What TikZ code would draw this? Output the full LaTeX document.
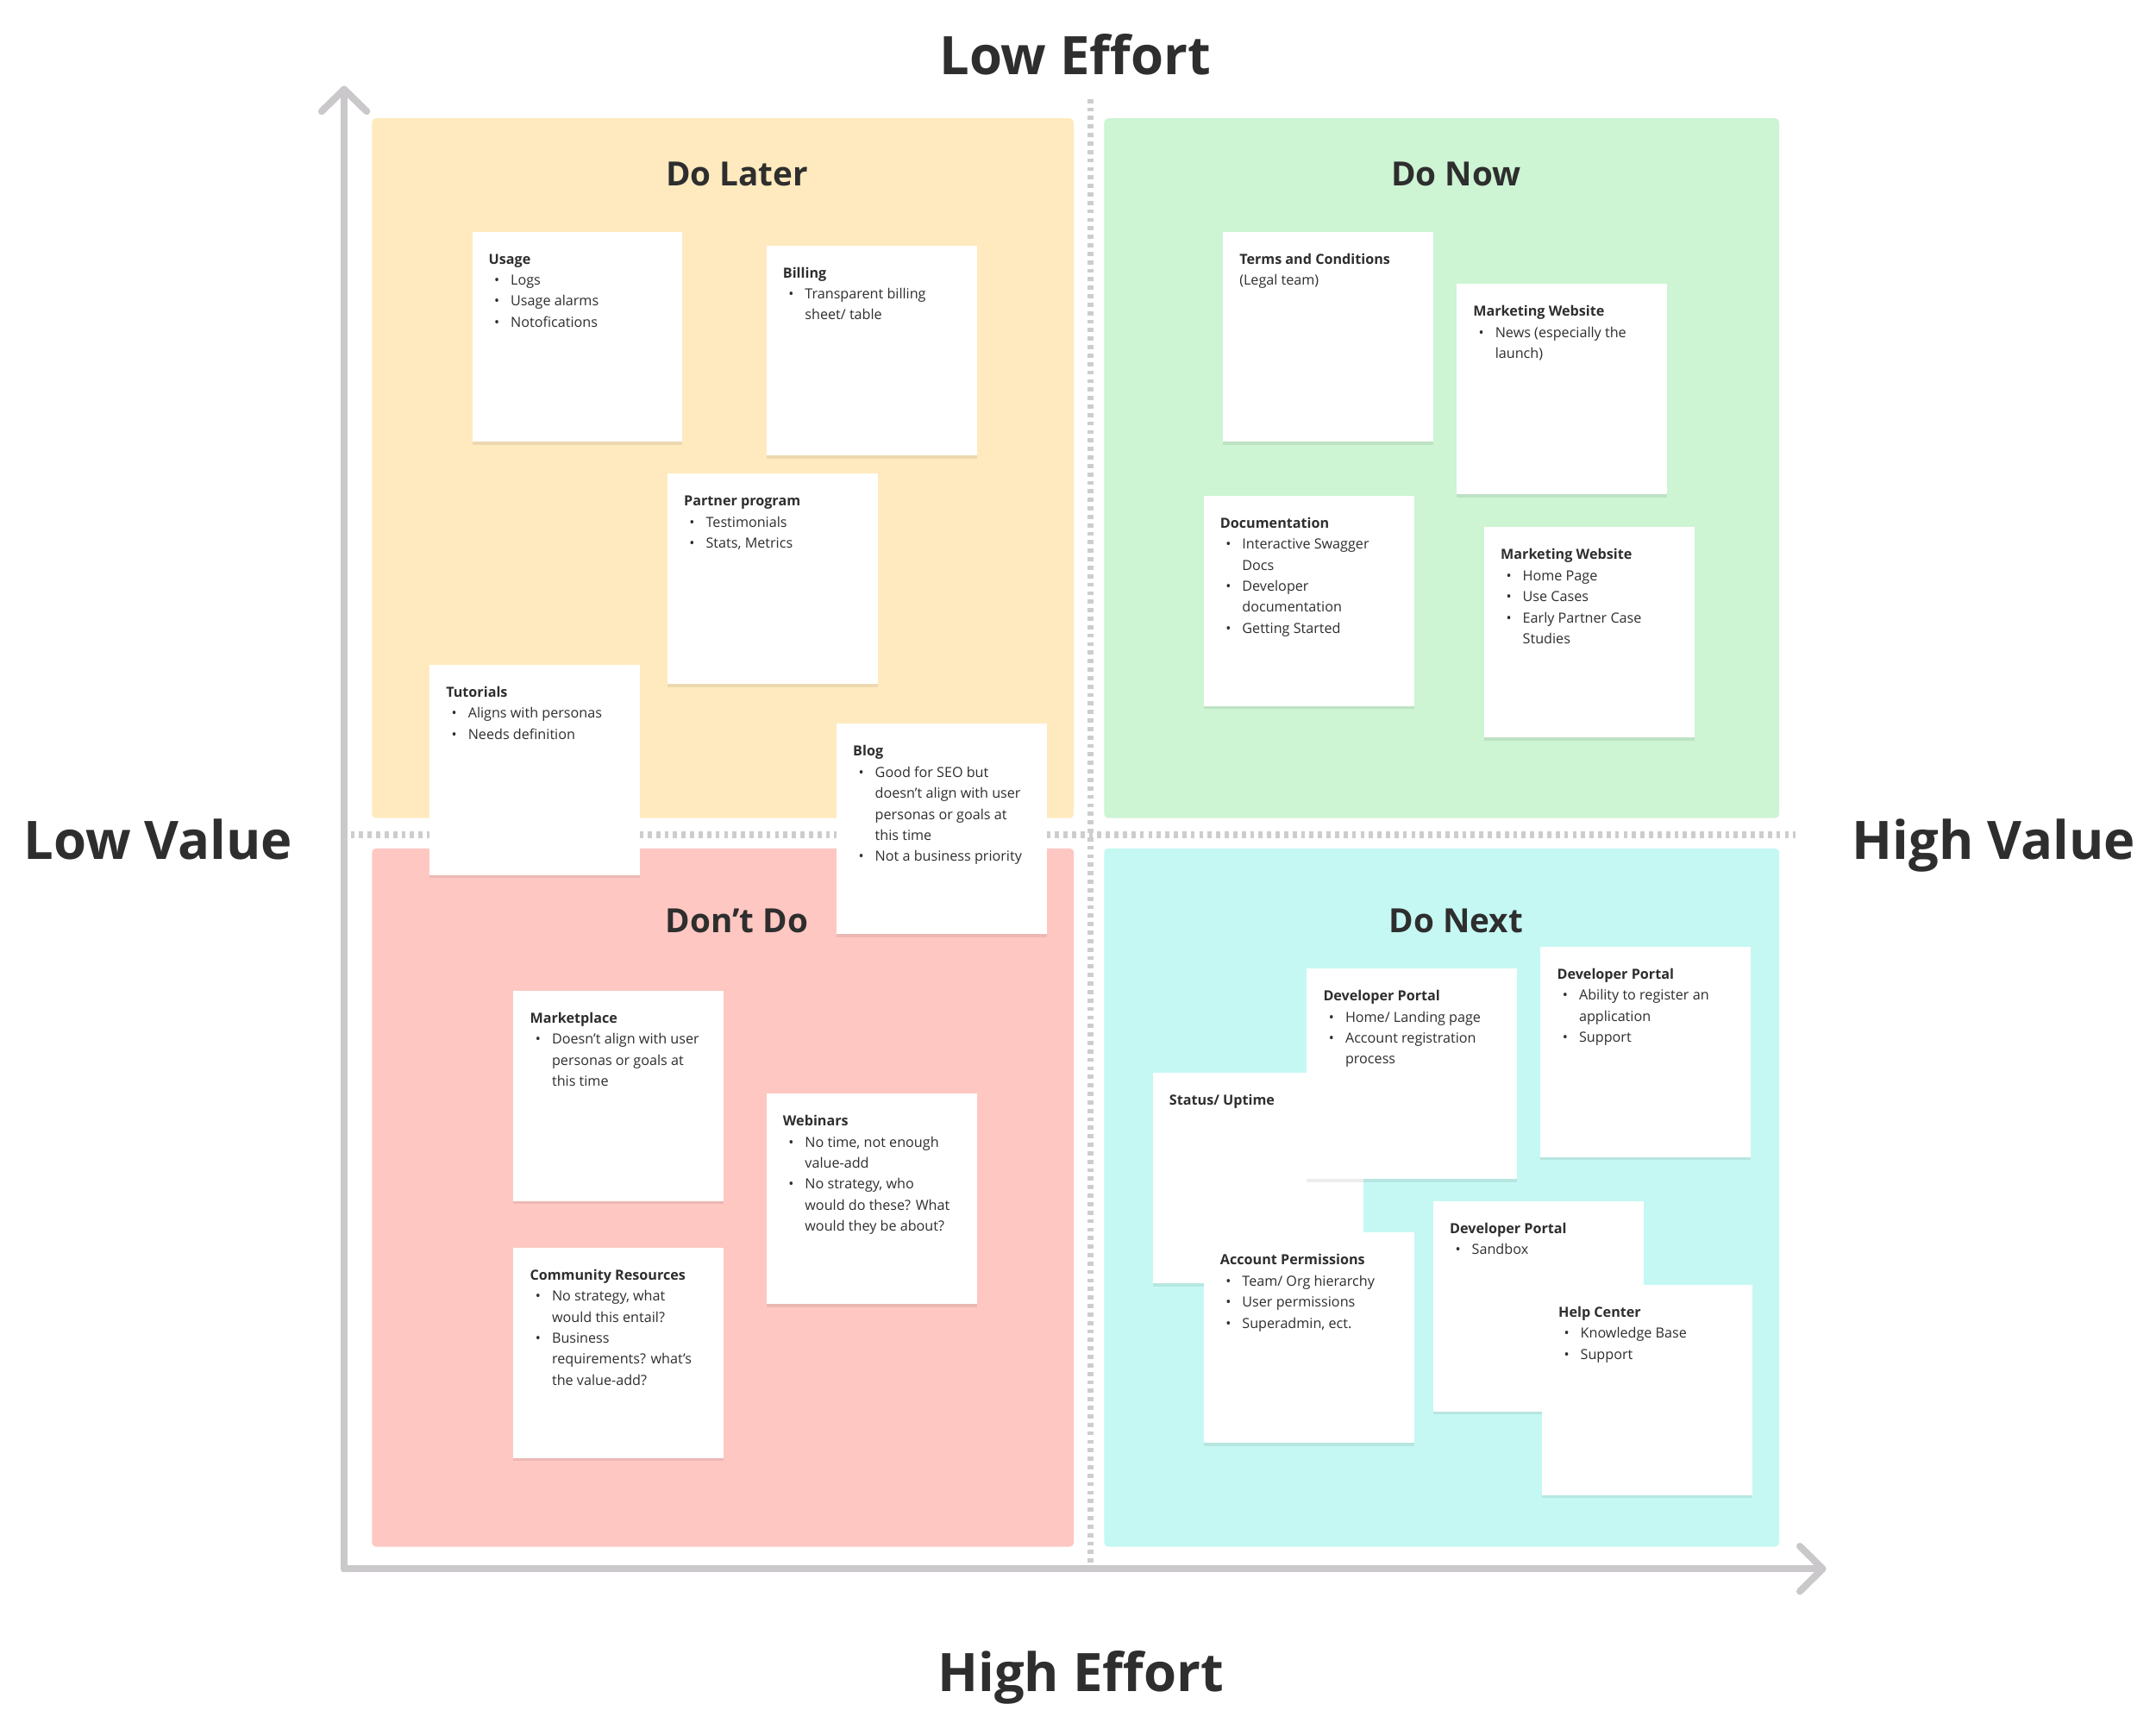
\documentclass[tikz,border=0pt]{standalone}
\usepackage{fontspec}
\setmainfont{Open Sans}
\usetikzlibrary{shadows,calc}
\definecolor{axisgray}{HTML}{CAC8CA}
\definecolor{dotgray}{HTML}{CDCDCD}
\definecolor{qyellow}{HTML}{FEEABE}
\definecolor{qgreen}{HTML}{CDF4D3}
\definecolor{qred}{HTML}{FEC7C2}
\definecolor{qcyan}{HTML}{C5F8F3}
\definecolor{ink}{HTML}{2E2E2E}
\newlength\ux \setlength\ux{0.45365pt}
\newcommand\sttl[1]{\hbox{\bfseries #1}}
\newcommand\sbul[1]{\hbox{\makebox[16\ux][l]{\hspace{4\ux}\textbullet}#1}}
\newcommand\scnt[1]{\hbox{\hspace{16\ux}#1}}
\newcommand\spln[1]{\hbox{#1}}
\newcommand\sbody[1]{\vtop{\baselineskip=15.3\ux\relax #1}}
\tikzset{
  quad/.style={rounded corners=1.4pt},
  qtitle/.style={anchor=base, inner sep=0, text=ink, font=\fontsize{11}{13}\selectfont\bfseries},
  axlabel/.style={anchor=base, inner sep=0, text=ink, font=\fontsize{17.5}{20}\selectfont\bfseries},
  sticky/.style={anchor=north west, fill=white, inner sep=0, minimum width=69.4pt, minimum height=69.4pt,
    drop shadow={shadow xshift=0pt, shadow yshift=-1pt, opacity=0.07, fill=black}},
  stext/.style={anchor=base west, inner sep=0, text=ink, font=\fontsize{4.6}{7}\selectfont},
  axisline/.style={draw=axisgray, line width=2.3pt, line cap=round, line join=round},
  dotline/.style={draw=dotgray, line width=2.1pt, dash pattern=on 1.35pt off 1.45pt},
}
\begin{document}
\begin{tikzpicture}[x=0.015944cm, y=-0.015944cm]
\useasboundingbox[fill=white] (0,0) rectangle (1568,1257);
% quadrants
\fill[qyellow, quad] (270.5,86) rectangle (781,595);
\fill[qgreen, quad] (803,86) rectangle (1294,595);
\fill[qred, quad] (270.5,617) rectangle (781,1125);
\fill[qcyan, quad] (803,617) rectangle (1294,1125);
% dotted dividers
\coordinate (vtop) at (793,72);
\coordinate (vbot) at (793,1137);
\coordinate (hleft) at (255,607);
\coordinate (hright) at (1306,607);
\draw[dotline] (vtop) -- (vbot);
\draw[dotline] (hleft) -- (hright);
% axes
\coordinate (origin) at (250.3,1141);
\coordinate (ytip) at (250.3,65);
\coordinate (xtip) at (1325.5,1141);
\draw[axisline] (origin) -- (ytip);
\draw[axisline] (origin) -- (xtip);
\draw[axisline] ($(ytip)+(-16.4,16)$) -- (ytip) -- ($(ytip)+(16.4,16)$);
\draw[axisline] ($(xtip)+(-16.5,-16.4)$) -- (xtip) -- ($(xtip)+(-16.5,16.4)$);
% axis labels
\node[axlabel] (lowE) at (782,54) {Low Effort};
\node[axlabel] (highE) at (786,1230) {High Effort};
\node[axlabel] (lowV) at (115,625) {Low Value};
\node[axlabel] (highV) at (1450,625) {High Value};
% quadrant titles
\node[qtitle] (tLater) at (536,135) {Do Later};
\node[qtitle] (tNow) at (1059,135) {Do Now};
\node[qtitle] (tDont) at (536,678) {Don’t Do};
\node[qtitle] (tNext) at (1059,678) {Do Next};
% Do Later
\node[sticky] (usage) at (343,168) {};
\node[stext] (usageT) at ($(usage.north west)+(12,24)$) {\sbody{\sttl{Usage}\sbul{Logs}\sbul{Usage alarms}\sbul{Notofications}}};
\node[sticky] (billing) at (557,178) {};
\node[stext] (billingT) at ($(billing.north west)+(12,24)$) {\sbody{\sttl{Billing}\sbul{Transparent billing}\scnt{sheet/ table}}};
\node[sticky] (partner) at (485,344) {};
\node[stext] (partnerT) at ($(partner.north west)+(12,24)$) {\sbody{\sttl{Partner program}\sbul{Testimonials}\sbul{Stats, Metrics}}};
% Don't Do
\node[sticky] (market) at (373,720) {};
\node[stext] (marketT) at ($(market.north west)+(12,24)$) {\sbody{\sttl{Marketplace}\sbul{Doesn’t align with user}\scnt{personas or goals at}\scnt{this time}}};
\node[sticky] (webinars) at (557,795) {};
\node[stext] (webinarsT) at ($(webinars.north west)+(12,24)$) {\sbody{\sttl{Webinars}\sbul{No time, not enough}\scnt{value-add}\sbul{No strategy, who}\scnt{would do these? What}\scnt{would they be about?}}};
\node[sticky] (community) at (373,907) {};
\node[stext] (communityT) at ($(community.north west)+(12,24)$) {\sbody{\sttl{Community Resources}\sbul{No strategy, what}\scnt{would this entail?}\sbul{Business}\scnt{requirements? what’s}\scnt{the value-add?}}};
% overlapping stickies
\node[sticky] (tutorials) at (312,483) {};
\node[stext] (tutorialsT) at ($(tutorials.north west)+(12,24)$) {\sbody{\sttl{Tutorials}\sbul{Aligns with personas}\sbul{Needs definition}}};
\node[sticky] (blog) at (608,526) {};
\node[stext] (blogT) at ($(blog.north west)+(12,24)$) {\sbody{\sttl{Blog}\sbul{Good for SEO but}\scnt{doesn’t align with user}\scnt{personas or goals at}\scnt{this time}\sbul{Not a business priority}}};
% Do Now
\node[sticky] (terms) at (889,168) {};
\node[stext] (termsT) at ($(terms.north west)+(12,24)$) {\sbody{\sttl{Terms and Conditions}\spln{(Legal team)}}};
\node[sticky] (mwnews) at (1059,206) {};
\node[stext] (mwnewsT) at ($(mwnews.north west)+(12,24)$) {\sbody{\sttl{Marketing Website}\sbul{News (especially the}\scnt{launch)}}};
\node[sticky] (docs) at (875,360) {};
\node[stext] (docsT) at ($(docs.north west)+(12,24)$) {\sbody{\sttl{Documentation}\sbul{Interactive Swagger}\scnt{Docs}\sbul{Developer}\scnt{documentation}\sbul{Getting Started}}};
\node[sticky] (mwhome) at (1079,383) {};
\node[stext] (mwhomeT) at ($(mwhome.north west)+(12,24)$) {\sbody{\sttl{Marketing Website}\sbul{Home Page}\sbul{Use Cases}\sbul{Early Partner Case}\scnt{Studies}}};
% Do Next
\node[sticky] (status) at (838,780) {};
\node[stext] (statusT) at ($(status.north west)+(12,24)$) {\sbody{\sttl{Status/ Uptime}}};
\node[sticky] (dphome) at (950,704) {};
\node[stext] (dphomeT) at ($(dphome.north west)+(12,24)$) {\sbody{\sttl{Developer Portal}\sbul{Home/ Landing page}\sbul{Account registration}\scnt{process}}};
\node[sticky] (dpreg) at (1120,688) {};
\node[stext] (dpregT) at ($(dpreg.north west)+(12,24)$) {\sbody{\sttl{Developer Portal}\sbul{Ability to register an}\scnt{application}\sbul{Support}}};
\node[sticky] (perms) at (875,896) {};
\node[stext] (permsT) at ($(perms.north west)+(12,24)$) {\sbody{\sttl{Account Permissions}\sbul{Team/ Org hierarchy}\sbul{User permissions}\sbul{Superadmin, ect.}}};
\node[sticky] (sandbox) at (1042,873) {};
\node[stext] (sandboxT) at ($(sandbox.north west)+(12,24)$) {\sbody{\sttl{Developer Portal}\sbul{Sandbox}}};
\node[sticky] (help) at (1121,934) {};
\node[stext] (helpT) at ($(help.north west)+(12,24)$) {\sbody{\sttl{Help Center}\sbul{Knowledge Base}\sbul{Support}}};
\end{tikzpicture}
\end{document}
